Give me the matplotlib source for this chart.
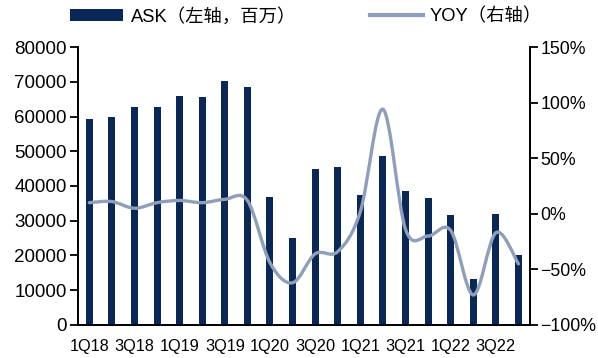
import numpy as np
import matplotlib
matplotlib.use('Agg')
import matplotlib.pyplot as plt
from matplotlib.path import Path
from matplotlib.patches import PathPatch, Patch
from matplotlib.lines import Line2D
from matplotlib.ticker import FuncFormatter

plt.rcParams['font.family'] = ['Liberation Sans', 'Noto Sans CJK SC', 'DejaVu Sans']

quarters = ['1Q18', '2Q18', '3Q18', '4Q18', '1Q19', '2Q19', '3Q19', '4Q19',
            '1Q20', '2Q20', '3Q20', '4Q20', '1Q21', '2Q21', '3Q21', '4Q21',
            '1Q22', '2Q22', '3Q22', '4Q22']
ask = [59300, 59900, 62700, 62800, 65900, 65600, 70200, 68500,
       36800, 25000, 44900, 45500, 37400, 48600, 38600, 36500,
       31700, 13200, 32000, 20100]
yoy = [0.10, 0.11, 0.05, 0.10, 0.12, 0.10, 0.13, 0.12,
       -0.44, -0.62, -0.36, -0.34, 0.02, 0.94, -0.14, -0.20,
       -0.15, -0.73, -0.17, -0.45]

bar_color = '#0a2857'
line_color = '#8f9fba'


def smooth_path(xs, ys):
    # Catmull-Rom style bezier through every point
    pts = np.column_stack([xs, ys]).astype(float)
    n = len(pts)
    verts = [pts[0]]
    codes = [Path.MOVETO]
    for i in range(n - 1):
        p0 = pts[max(i - 1, 0)]
        p1 = pts[i]
        p2 = pts[i + 1]
        p3 = pts[min(i + 2, n - 1)]
        c1 = p1 + (p2 - p0) / 6
        c2 = p2 - (p3 - p1) / 6
        verts += [c1, c2, p2]
        codes += [Path.CURVE4] * 3
    return Path(verts, codes)


fig = plt.figure(figsize=(5.98, 3.58), dpi=100)
ax = fig.add_axes([0.1304, 0.0922, 0.7555, 0.7765])
ax2 = ax.twinx()

x = np.arange(len(quarters))
ax.bar(x, ask, width=0.31, color=bar_color, zorder=2)
ax.set_xlim(-0.5, len(quarters) - 0.5)
ax.set_ylim(0, 80000)
ax.set_yticks(range(0, 80001, 10000))
ax.set_xticks(x[::2])
ax.set_xticklabels(quarters[::2])

ax2.add_patch(PathPatch(smooth_path(x, yoy), facecolor='none', edgecolor=line_color,
                        lw=2.4, capstyle='round', zorder=3))
ax2.set_ylim(-1.0, 1.5)
ax2.set_yticks(np.arange(-1.0, 1.51, 0.5))
ax2.yaxis.set_major_formatter(FuncFormatter(lambda v, p: f'{v:.0%}'.replace('-', '\u2212')))

for a in (ax, ax2):
    a.spines['top'].set_visible(False)
    for s in ('left', 'right', 'bottom'):
        a.spines[s].set_linewidth(1.3)
        a.spines[s].set_color('black')
ax.tick_params(axis='y', direction='out', length=6, width=1.3, labelsize=13.5, pad=2)
ax2.tick_params(axis='y', direction='out', length=6, width=1.3, labelsize=12.8, pad=1.5)
ax.tick_params(axis='x', length=0, labelsize=11.8, pad=10)

handles = [Patch(facecolor=bar_color, edgecolor='none'),
           Line2D([0], [0], color=line_color, lw=3)]
fig.legend(handles, ['ASK（左轴，百万）', 'YOY（右轴）'], loc='upper left',
           bbox_to_anchor=(0.09, 1.025), ncol=2, frameon=False, fontsize=13.2,
           handlelength=2.9, handleheight=0.6, columnspacing=4.0, handletextpad=0.4)

fig.savefig('out.png', dpi=100)
